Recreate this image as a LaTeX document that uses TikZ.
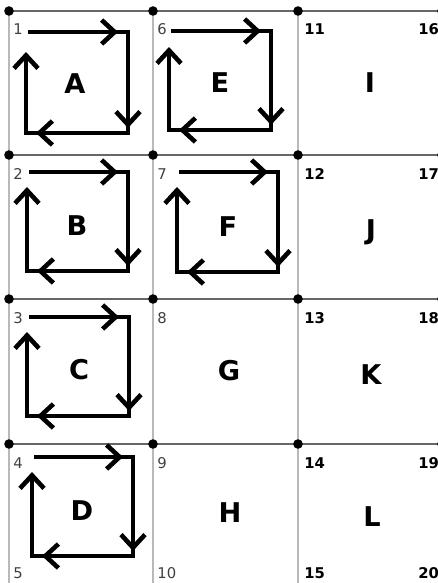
\documentclass[tikz,border=0pt]{standalone}
\usepackage{fontspec}
\setmainfont{DejaVu Sans}
\usetikzlibrary{arrows.meta}

\begin{document}
\begin{tikzpicture}[x=0.5pt, y=-0.5pt,
  gridv/.style={draw=gray!55, line width=1pt},
  gridh/.style={draw=gray!80!black, line width=0.9pt},
  vertex/.style={circle, fill=black, inner sep=0pt, minimum size=4.8pt},
  cellname/.style={font=\fontsize{13.6}{16}\selectfont\bfseries, anchor=base, inner sep=0pt},
  vnum/.style={font=\fontsize{7.4}{9}\selectfont, anchor=base west, inner sep=0pt},
  loopline/.style={line width=2.3pt, line join=miter},
  looptip/.style={line width=2.3pt, -{Straight Barb[length=6.5pt, width=12pt]}}]
  \useasboundingbox (0,0) rectangle (438,583);

  % grid vertices and their numbers
  \foreach \c/\x in {0/9,1/153,2/298,3/442} {
    \foreach \r/\y in {0/11,1/155,2/299,3/444,4/588} {
      \pgfmathtruncatemacro{\k}{5*\c+\r+1}
      \pgfmathsetmacro{\dx}{\c==3 ? -24 : (\c==2 ? 6 : 4)}
      \pgfmathsetmacro{\dy}{\r==4 ? -10 : 24}
      \coordinate (v\c\r) at (\x,\y);
      \ifnum\c>1
        \node[vnum, font=\fontsize{7.4}{9}\selectfont\bfseries] (n\k) at (\x+\dx,\y+\dy) {\k};
      \else
        \node[vnum, text=black!75] (n\k) at (\x+\dx,\y+\dy) {\k};
      \fi
    }
  }

  % grid lines
  \foreach \c in {0,...,3} \draw[gridv] (v\c0) -- (v\c4);
  \foreach \r in {0,...,4} \draw[gridh] (v0\r) -- (v3\r);
  \foreach \c in {0,...,3} \foreach \r in {0,...,4} \node[vertex] at (v\c\r) {};

  % cell letters
  \foreach \n/\x/\y in {A/75/94, E/220/93, I/370/93, B/77/235, F/228/236, J/371/239,
                        C/79/379, G/229/380, K/371/384, D/82/520, H/230/522, L/372/526}
    \node[cellname] (\n) at (\x,\y) {\n};

  % clockwise loops
  \foreach \n/\l/\t/\r/\b/\u in {A/26/32/128/133/52, E/169/31/271/130/47,
                                 B/27/172/128/271/187, F/177/172/278/272/187,
                                 C/27/317/129/416/332, D/32/457/133/556/472} {
    \coordinate (\n-st) at (\l+2,\t);
    \coordinate (\n-tr) at (\r,\t);
    \coordinate (\n-br) at (\r,\b);
    \coordinate (\n-bl) at (\l,\b);
    \coordinate (\n-up) at (\l,\u);
    \draw[loopline, -{Straight Barb[length=6.5pt, width=12pt]}] (\n-st) -- (\n-tr) -- (\n-br) -- (\n-bl) -- (\n-up);
    \draw[looptip] ([xshift=-12pt]\n-tr) -- ([xshift=-5pt]\n-tr);
    \draw[looptip] ([yshift=10pt]\n-br) -- ([yshift=2.5pt]\n-br);
    \draw[looptip] ([xshift=12pt]\n-bl) -- ([xshift=5pt]\n-bl);
  }
\end{tikzpicture}
\end{document}
